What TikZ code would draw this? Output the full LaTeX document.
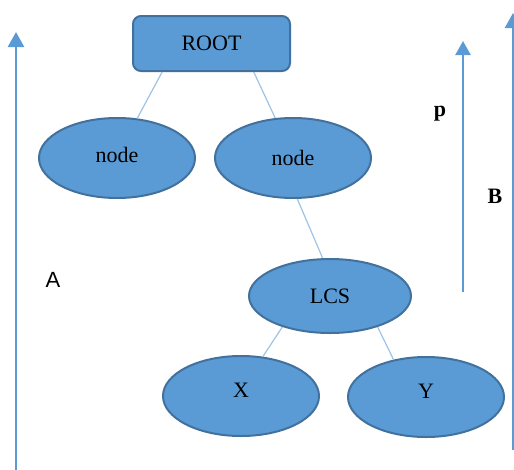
\documentclass[tikz,border=0pt]{standalone}
\usepackage{fontspec}
\setmainfont{Liberation Serif}
\newfontfamily\labelsans{Liberation Sans}
\usetikzlibrary{arrows.meta, shapes.geometric}
\definecolor{boxfill}{HTML}{5B9BD5}
\definecolor{boxline}{HTML}{41719C}
\definecolor{edgeline}{HTML}{9DC3E6}
\tikzset{treenode/.style={ellipse, draw=boxline, fill=boxfill, line width=2pt,
    minimum width=156pt, minimum height=80pt, inner sep=0pt, font=\fontsize{22}{26}\selectfont},
  rootbox/.style={rectangle, rounded corners=8pt, draw=boxline, fill=boxfill, line width=2pt,
    minimum width=157pt, minimum height=55pt, inner sep=0pt, font=\fontsize{22}{26}\selectfont},
  treeedge/.style={edgeline, line width=1.2pt},
  uparrow/.style={boxfill, line width=2.4pt, -{Triangle[width=16pt, length=15pt]}},
}

\begin{document}
\begin{tikzpicture}[x=1pt, y=-1pt]
                    \useasboundingbox (0,0) rectangle (514,469);
                    %Tree: root, two children, LCS with X and Y below
                    \node[rootbox] (root) at (211.5, 43.5) {ROOT};
                    \node[treenode, text depth=6pt] (n1) at (117, 158) {node};
                    \node[treenode] (n2) at (293, 158) {node};
                    \node[treenode, minimum width=162pt, minimum height=74pt] (lcs) at (330, 296) {LCS};
                    \node[treenode, text depth=12pt] (x) at (241, 396) {X};
                    \node[treenode, text depth=12pt] (y) at (426, 397) {Y};
                    \draw[treeedge] (root.210)--(n1.63);
                    \draw[treeedge] (root.326)--(n2.114);
                    \draw[treeedge] (n2.276)--(lcs.101);
                    \draw[treeedge] (lcs.213)--(x.61);
                    \draw[treeedge] (lcs.327)--(y.131);
                    %Arrows at the sides
                    \coordinate (a0) at (16, 470);
                    \coordinate (a1) at (16, 32);
                    \coordinate (p0) at (463, 292);
                    \coordinate (p1) at (463, 41);
                    \coordinate (b0) at (513, 450);
                    \coordinate (b1) at (513, 13);
                    \draw[uparrow] (a0)--(a1);
                    \draw[uparrow, -{Triangle[width=15pt, length=14pt]}] (p0)--(p1);
                    \draw[uparrow] (b0)--(b1);
                    \node[font=\labelsans\fontsize{22}{26}\selectfont] (la) at (53, 280) {A};
                    \node[font=\bfseries\fontsize{22}{26}\selectfont] (lp) at (440, 114) {p};
                    \node[font=\bfseries\fontsize{22}{26}\selectfont] (lb) at (495, 196) {B};
                \end{tikzpicture}
\end{document}
